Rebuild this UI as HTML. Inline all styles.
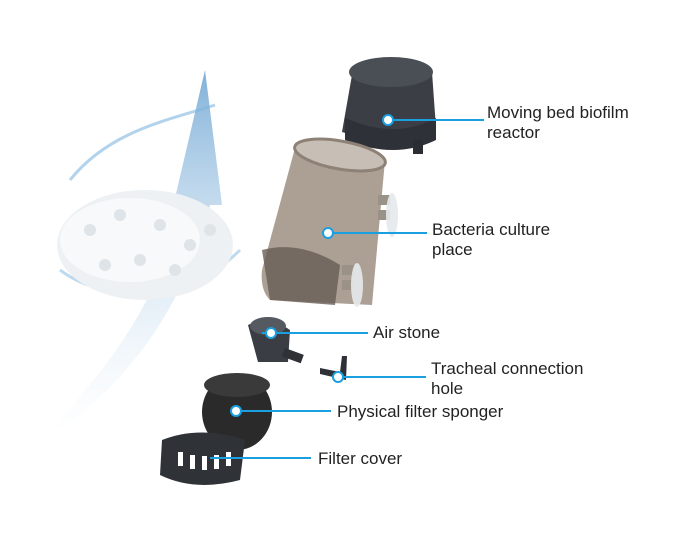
<!DOCTYPE html>
<html><head><style>
html,body{margin:0;padding:0;background:#fff;}
body{width:700px;height:560px;position:relative;overflow:hidden;font-family:"Liberation Sans","DejaVu Sans",sans-serif;}
.t{position:absolute;font-size:17px;color:#222;line-height:20px;}
</style></head><body>
<svg width="700" height="560" style="position:absolute;left:0;top:0">
<defs>
<linearGradient id="ar" x1="0" y1="1" x2="0" y2="0"><stop offset="0" stop-color="#cfe3f3" stop-opacity="0"/><stop offset="1" stop-color="#4a8fc8"/></linearGradient>
</defs>
<path d="M45,440 C90,380 150,330 185,200 L175,198 L205,70 L222,205 L210,205 C180,320 120,390 45,440Z" fill="url(#ar)" opacity="0.7"/>
<path d="M70,180 C110,130 170,120 215,105" stroke="#7fb5de" stroke-width="3" fill="none" opacity="0.6"/>
<path d="M60,270 C100,300 180,310 240,250" stroke="#7fb5de" stroke-width="3" fill="none" opacity="0.5"/>
<ellipse cx="145" cy="245" rx="88" ry="55" fill="#eef1f3"/>
<ellipse cx="130" cy="240" rx="70" ry="42" fill="#f8f9fa"/>
<g fill="#dfe4e8">
<circle cx="90" cy="230" r="6"/><circle cx="120" cy="215" r="6"/><circle cx="160" cy="225" r="6"/><circle cx="190" cy="245" r="6"/><circle cx="140" cy="260" r="6"/><circle cx="105" cy="265" r="6"/><circle cx="175" cy="270" r="6"/><circle cx="210" cy="230" r="6"/>
</g>
<path d="M352,75 Q392,55 432,72 L436,128 Q395,150 342,132Z" fill="#3b3f45"/>
<ellipse cx="391" cy="72" rx="42" ry="15" fill="#4a4f56"/>
<path d="M345,118 Q395,140 436,118 L436,140 Q395,160 345,140Z" fill="#2e3238"/>
<rect x="413" y="140" width="10" height="14" fill="#2a2d31"/>
<path d="M295,148 L385,160 L372,305 L270,300 Q260,290 262,270Z" fill="#9d8f81" opacity="0.85"/>
<ellipse cx="340" cy="155" rx="46" ry="14" fill="#c7bfb6" stroke="#8e8276" stroke-width="3" transform="rotate(10 340 155)"/>
<path d="M262,250 Q300,240 340,265 L335,305 L270,300Z" fill="#675d55" opacity="0.8"/>
<g fill="#9a9286"><rect x="378" y="195" width="12" height="10"/><rect x="378" y="210" width="12" height="10"/><rect x="342" y="265" width="12" height="10"/><rect x="342" y="280" width="12" height="10"/></g>
<g fill="#e6e9ec" opacity="0.9"><ellipse cx="392" cy="215" rx="6" ry="22"/><ellipse cx="357" cy="285" rx="6" ry="22"/></g>
<path d="M248,325 Q268,315 290,330 L288,362 L258,362 Z" fill="#3a3e44"/>
<ellipse cx="268" cy="326" rx="18" ry="9" fill="#555a60"/>
<rect x="285" y="348" width="20" height="9" fill="#2e3136" transform="rotate(20 285 348)"/>
<path d="M320,368 L340,372 L342,356 L347,356 L346,380 L320,374Z" fill="#2e3136"/>
<ellipse cx="237" cy="412" rx="35" ry="38" fill="#2a2a2a"/>
<ellipse cx="237" cy="385" rx="33" ry="12" fill="#3a3a3a"/>
<path d="M162,440 Q200,425 245,440 L240,480 Q195,492 160,475Z" fill="#2f3338"/>
<g fill="#fff"><rect x="178" y="452" width="5" height="14"/><rect x="190" y="455" width="5" height="14"/><rect x="202" y="456" width="5" height="14"/><rect x="214" y="455" width="5" height="14"/><rect x="226" y="452" width="5" height="14"/></g>
<g stroke="#1a9fe0" stroke-width="2">
<line x1="388" y1="120" x2="484" y2="120"/>
<line x1="328" y1="233" x2="427" y2="233"/>
<line x1="262" y1="333" x2="368" y2="333"/>
<line x1="342" y1="377" x2="426" y2="377"/>
<line x1="235" y1="411" x2="331" y2="411"/>
<line x1="210" y1="458" x2="311" y2="458"/>
</g>
<g fill="#fff" stroke="#1a9fe0" stroke-width="2">
<circle cx="388" cy="120" r="5"/><circle cx="328" cy="233" r="5"/><circle cx="271" cy="333" r="5"/><circle cx="338" cy="377" r="5"/><circle cx="236" cy="411" r="5"/>
</g>
</svg>
<div class="t" style="left:487px;top:103px">Moving bed biofilm<br>reactor</div>
<div class="t" style="left:432px;top:220px">Bacteria culture<br>place</div>
<div class="t" style="left:373px;top:323px">Air stone</div>
<div class="t" style="left:431px;top:359px">Tracheal connection<br>hole</div>
<div class="t" style="left:337px;top:402px">Physical filter sponger</div>
<div class="t" style="left:318px;top:449px">Filter cover</div>
</body></html>
